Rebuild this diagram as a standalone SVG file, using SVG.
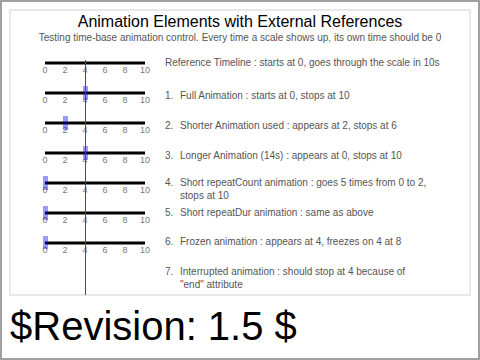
<svg xmlns="http://www.w3.org/2000/svg" width="480" height="360" viewBox="0 0 480 360">
<defs>
<style>
.axis{stroke:#000;stroke-width:3}
.tick{font-family:"Liberation Sans",Arial,sans-serif;font-size:9px;fill:#777;text-anchor:middle}
.desc{font-family:"Liberation Sans",Arial,sans-serif;font-size:10px;fill:#555}
.mark{fill:#0000ff;fill-opacity:0.4}
</style>
<g id="scale">
<line class="axis" x1="45" y1="0" x2="145" y2="0"/>
<text class="tick" x="45" y="10">0</text>
<text class="tick" x="65" y="10">2</text>
<text class="tick" x="85" y="10">4</text>
<text class="tick" x="105" y="10">6</text>
<text class="tick" x="125" y="10">8</text>
<text class="tick" x="145" y="10">10</text>
</g>
</defs>
<rect x="1" y="1" width="478" height="358" fill="#fff" stroke="#a0a0a0" stroke-width="2"/>
<rect x="10" y="10" width="460" height="285" fill="none" stroke="#e8e8e8" stroke-width="2"/>
<text x="240" y="27" font-family="'Liberation Sans',Arial,sans-serif" font-size="16" text-anchor="middle" fill="#000">Animation Elements with External References</text>
<text x="240" y="41" font-family="'Liberation Sans',Arial,sans-serif" font-size="10" text-anchor="middle" fill="#555">Testing time-base animation control. Every time a scale shows up, its own time should be 0</text>

<g id="timeline-ref"><use href="#scale" y="63"/></g>
<g id="timeline-1"><use href="#scale" y="93"/><rect class="mark" x="83" y="86" width="5" height="14"/></g>
<g id="timeline-2"><use href="#scale" y="123"/><rect class="mark" x="63" y="116" width="5" height="14"/></g>
<g id="timeline-3"><use href="#scale" y="153"/><rect class="mark" x="83" y="146" width="5" height="14"/></g>
<g id="timeline-4"><use href="#scale" y="183"/><rect class="mark" x="43" y="176" width="5" height="14"/></g>
<g id="timeline-5"><use href="#scale" y="213"/><rect class="mark" x="43" y="206" width="5" height="14"/></g>
<g id="timeline-6"><use href="#scale" y="243"/><rect class="mark" x="43" y="236" width="5" height="13"/></g>

<g id="connectors">
<line x1="85.5" y1="60" x2="85.5" y2="295" stroke="#ff0000" stroke-width="1"/>
</g>

<g id="descriptions">
<text class="desc" x="165" y="66">Reference Timeline : starts at 0, goes through the scale in 10s</text>
<text class="desc" x="165" y="99">1.</text><text class="desc" x="180" y="99">Full Animation : starts at 0, stops at 10</text>
<text class="desc" x="165" y="129">2.</text><text class="desc" x="180" y="129">Shorter Animation used : appears at 2, stops at 6</text>
<text class="desc" x="165" y="159">3.</text><text class="desc" x="180" y="159">Longer Animation (14s) : appears at 0, stops at 10</text>
<text class="desc" x="165" y="186">4.</text><text class="desc" x="180" y="186">Short repeatCount animation : goes 5 times from 0 to 2,</text>
<text class="desc" x="180" y="199">stops at 10</text>
<text class="desc" x="165" y="216">5.</text><text class="desc" x="180" y="216">Short repeatDur animation : same as above</text>
<text class="desc" x="165" y="245">6.</text><text class="desc" x="180" y="245">Frozen animation : appears at 4, freezes on 4 at 8</text>
<text class="desc" x="165" y="275">7.</text><text class="desc" x="180" y="275">Interrupted animation : should stop at 4 because of</text>
<text class="desc" x="180" y="288">"end" attribute</text>
</g>
<text x="10" y="340" font-family="'Liberation Sans',Arial,sans-serif" font-size="40" fill="#000">$Revision: 1.5 $</text>
</svg>
